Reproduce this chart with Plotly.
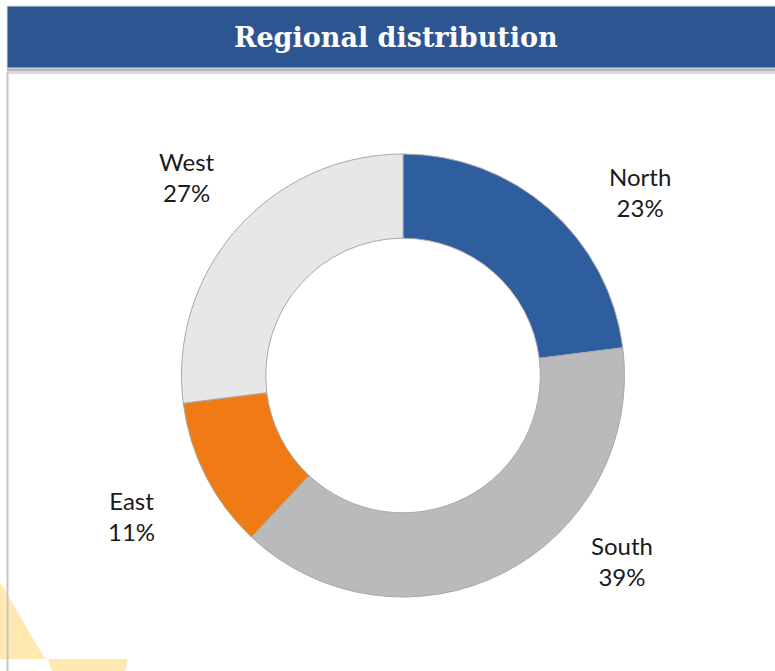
import plotly.graph_objects as go

# ---- data ----
regions = ["North", "South", "East", "West"]
shares = [23, 39, 11, 27]
slice_colors = ["#2F5E9E", "#BABABA", "#F07A14", "#E7E7E7"]
title_text = "Regional distribution"

# ---- layout constants (pixels) ----
W, H = 775, 671
cx, cy, R = 403, 375.5, 221.5
label_px = {"North": (640, 192), "South": (622, 561), "East": (131, 516), "West": (187, 177)}

def px(x):
    return x / W

def py(y):
    return 1 - y / H

fig = go.Figure()

fig.add_trace(go.Pie(
    labels=regions,
    values=shares,
    hole=0.62,
    sort=False,
    direction="clockwise",
    rotation=0,
    marker=dict(colors=slice_colors, line=dict(color="#A8A8A8", width=1)),
    textinfo="none",
    hoverinfo="label+percent",
    showlegend=False,
    domain=dict(x=[px(cx - R), px(cx + R)], y=[py(cy + R), py(cy - R)]),
))

annotations = []
for name, val in zip(regions, shares):
    lx, ly = label_px[name]
    annotations.append(dict(
        x=px(lx), y=py(ly), xref="paper", yref="paper",
        text=f"{name}<br>{val}%", showarrow=False,
        xanchor="center", yanchor="middle", align="center",
        font=dict(family="Lato, 'Open Sans', sans-serif", size=24, color="#1a1a1a"),
    ))

annotations.append(dict(
    x=px(396), y=py(37), xref="paper", yref="paper",
    text=f"<b>{title_text}</b>", showarrow=False,
    xanchor="center", yanchor="middle",
    font=dict(family="'DejaVu Serif', 'Liberation Serif', serif", size=27, color="white"),
))

shapes = [
    # watermark fragments (bottom-left)
    dict(type="path", xref="paper", yref="paper",
         path=f"M {px(0)},{py(582)} L {px(45)},{py(659)} L {px(0)},{py(659)} Z",
         fillcolor="#FFE9B0", line=dict(width=0), layer="below"),
    dict(type="path", xref="paper", yref="paper",
         path=f"M {px(48)},{py(659)} L {px(128)},{py(659)} L {px(125)},{py(671)} L {px(52)},{py(671)} Z",
         fillcolor="#FFE9B0", line=dict(width=0), layer="below"),
    # shadow under title bar
    dict(type="rect", xref="paper", yref="paper",
         x0=px(7), x1=1.01, y0=py(74), y1=py(67),
         fillcolor="#DADADA", line=dict(width=0), layer="below"),
    dict(type="rect", xref="paper", yref="paper",
         x0=px(7), x1=1.01, y0=py(71), y1=py(67),
         fillcolor="#B8B8B8", line=dict(width=0), layer="below"),
    # title bar
    dict(type="rect", xref="paper", yref="paper",
         x0=px(7), x1=1.01, y0=py(68), y1=py(6),
         fillcolor="#2C5592", line=dict(color="#E0E0E0", width=1), layer="below"),
    # left border line
    dict(type="line", xref="paper", yref="paper",
         x0=px(7.5), x1=px(7.5), y0=py(72), y1=0,
         line=dict(color="#C6C6C6", width=2)),
]

fig.update_layout(
    width=W, height=H,
    margin=dict(l=0, r=0, t=0, b=0),
    paper_bgcolor="white",
    plot_bgcolor="white",
    annotations=annotations,
    shapes=shapes,
)

fig.write_html("out.html", config={"displayModeBar": False},
               post_script="document.body.style.margin='0';")
